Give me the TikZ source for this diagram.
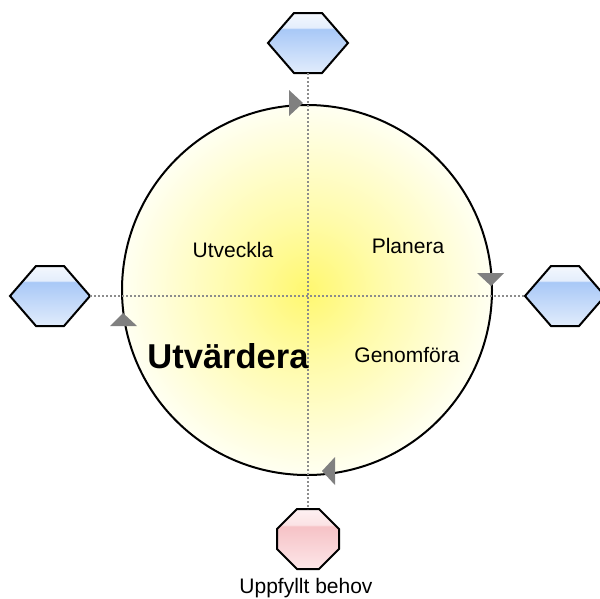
\documentclass[tikz,border=0pt]{standalone}
\usepackage{fontspec}
\setmainfont{Liberation Sans}

\definecolor{hexljus}{HTML}{F6F9FE}
\definecolor{hexband}{HTML}{E4EEFC}
\definecolor{hexmitt}{HTML}{A8C8F7}
\definecolor{hexbotten}{HTML}{E4EEFC}
\definecolor{stoppljus}{HTML}{FEF3F4}
\definecolor{stoppband}{HTML}{FBE2E4}
\definecolor{stoppmitt}{HTML}{F6C2C6}
\definecolor{stoppbotten}{HTML}{FDE8EA}
\definecolor{solmitt}{HTML}{FFF870}
\definecolor{solkant}{HTML}{FFFFF2}

\pgfdeclareverticalshading{hexskugga}{100bp}{
  color(0bp)=(hexbotten); color(25bp)=(hexbotten); color(61bp)=(hexmitt);
  color(62bp)=(hexband); color(75bp)=(hexljus); color(100bp)=(hexljus)}
\pgfdeclareverticalshading{stoppskugga}{100bp}{
  color(0bp)=(stoppbotten); color(25bp)=(stoppbotten); color(60bp)=(stoppmitt);
  color(61bp)=(stoppband); color(75bp)=(stoppljus); color(100bp)=(stoppljus)}
\pgfdeclareradialshading{solsken}{\pgfpoint{0bp}{0bp}}{
  color(0bp)=(solmitt); color(10bp)=(solmitt!55!solkant);
  color(25bp)=(solkant); color(50bp)=(solkant)}

\begin{document}
\begin{tikzpicture}[
        x=1pt, y=-1pt,
        % Stilar för formerna
        hex/.style={minimum width=84pt, minimum height=64pt, inner sep=0pt,
                    outer sep=-2pt,
                    path picture={
                      \draw[line width=2pt, shading=hexskugga]
                        ([xshift=2pt]path picture bounding box.west)
                        -- ([xshift=28pt,yshift=-2pt]path picture bounding box.north west)
                        -- ([xshift=-28pt,yshift=-2pt]path picture bounding box.north east)
                        -- ([xshift=-2pt]path picture bounding box.east)
                        -- ([xshift=-28pt,yshift=2pt]path picture bounding box.south east)
                        -- ([xshift=28pt,yshift=2pt]path picture bounding box.south west)
                        -- cycle;}},
        stopp/.style={minimum width=66pt, minimum height=64pt, inner sep=0pt,
                    outer sep=-2pt,
                    path picture={
                      \draw[line width=2pt, shading=stoppskugga]
                        ([xshift=2pt,yshift=-22pt]path picture bounding box.north west)
                        -- ([xshift=22pt,yshift=-2pt]path picture bounding box.north west)
                        -- ([xshift=-22pt,yshift=-2pt]path picture bounding box.north east)
                        -- ([xshift=-2pt,yshift=-22pt]path picture bounding box.north east)
                        -- ([xshift=-2pt,yshift=22pt]path picture bounding box.south east)
                        -- ([xshift=-22pt,yshift=2pt]path picture bounding box.south east)
                        -- ([xshift=22pt,yshift=2pt]path picture bounding box.south west)
                        -- ([xshift=2pt,yshift=22pt]path picture bounding box.south west)
                        -- cycle;}},
        hjul/.style={circle, draw=black, line width=2pt, minimum size=370pt,
                    inner sep=0pt, shading=solsken},
        linje/.style={draw=gray!90, line width=2pt, dash pattern=on 2pt off 2pt},
        pil/.style={fill=gray},
        fas/.style={anchor=base, font=\fontsize{21}{25}\selectfont},
    ]
        \useasboundingbox (0,0) rectangle (600,598);

        %% ── Cirkeln ──
        \node[hjul] (hjul) at (307,290) {};

        %% ── Sexhörningar och stoppskylt ──
        \node[hex]   (topp)    at (308,43)  {};
        \node[hex]   (vanster) at (50,296)  {};
        \node[hex]   (hoger)   at (565,296) {};
        \node[stopp] (botten)  at (308,539) {};

        %% ── Streckade linjer ──
        \draw[linje] (topp) -- (botten);
        \draw[linje] (vanster) -- (hoger);

        %% ── Texter ──
        \node[fas] (utveckla)  at (233,257) {Utveckla};
        \node[fas] (planera)   at (408,253) {Planera};
        \node[fas] (genomfora) at (407,362) {Genomföra};
        \node[anchor=base, font=\fontsize{34.5}{40}\selectfont\bfseries]
                   (utvardera) at (228,368) {Utvärdera};
        \node[fas] (behov)     at (306,593) {Uppfyllt behov};

        %% ── Pilspetsar på cirkeln (medurs) ──
        \fill[pil] (303,103) -- (289,90)  -- (289,116) -- cycle;
        \fill[pil] (491,286) -- (477,273) -- (504,273) -- cycle;
        \fill[pil] (322,471) -- (335,457) -- (335,485) -- cycle;
        \fill[pil] (123,313) -- (110,326) -- (137,326) -- cycle;

    \end{tikzpicture}
\end{document}
